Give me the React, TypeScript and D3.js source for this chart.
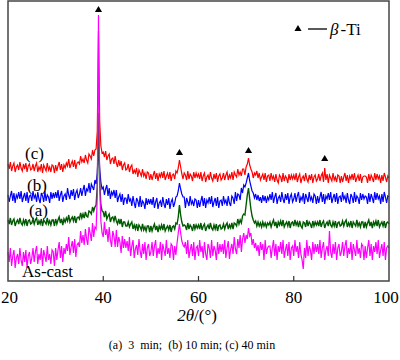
import React, { useEffect, useRef } from 'react';
import * as d3 from 'd3';

// 2theta grid, 0.25 degree step from 20 to 100
const twoTheta: number[] = d3.range(321).map((i) => 20 + i * 0.25);

// intensities (a.u.), one row per 5 degrees
const curveC: number[] = [
  117, 112, 119, 110, 115, 118, 109, 114, 116, 111, 119, 113, 110, 117, 112, 118, 109, 115, 117, 111,
  112, 117, 110, 115, 118, 109, 114, 111, 117, 108, 116, 113, 110, 118, 111, 114, 109, 116, 115, 108,
  116, 110, 115, 119, 111, 117, 109, 116, 113, 118, 115, 122, 113, 117, 120, 114, 121, 112, 118, 119,
  117, 125, 119, 122, 118, 126, 121, 118, 127, 125, 122, 131, 125, 131, 132, 150, 250, 160, 135, 128,
  129, 124, 130, 121, 125, 127, 117, 122, 123, 117, 125, 118, 114, 121, 115, 120, 111, 116, 118, 111,
  112, 117, 109, 114, 116, 107, 111, 108, 113, 104, 111, 108, 105, 112, 105, 108, 102, 109, 108, 101,
  107, 101, 106, 110, 102, 108, 100, 107, 104, 109, 103, 110, 101, 105, 108, 102, 109, 100, 106, 107,
  102, 110, 108, 113, 121, 114, 107, 102, 108, 106, 101, 110, 102, 107, 105, 100, 109, 103, 108, 104,
  107, 102, 109, 100, 105, 108, 99, 104, 106, 101, 109, 103, 100, 107, 102, 108, 99, 105, 107, 101,
  103, 108, 101, 106, 109, 101, 106, 103, 109, 101, 109, 106, 104, 112, 106, 109, 105, 112, 112, 106,
  114, 117, 123, 116, 112, 109, 103, 108, 106, 110, 103, 108, 101, 104, 107, 101, 108, 99, 105, 106,
  100, 108, 102, 105, 99, 107, 101, 98, 106, 104, 99, 108, 100, 105, 103, 98, 107, 101, 106, 102,
  106, 101, 108, 99, 104, 107, 98, 103, 105, 100, 108, 102, 99, 106, 101, 107, 98, 104, 106, 100,
  102, 107, 100, 105, 108, 99, 113, 101, 107, 98, 106, 103, 100, 108, 101, 104, 99, 106, 105, 98,
  105, 99, 104, 108, 100, 106, 98, 105, 102, 107, 101, 108, 99, 103, 106, 100, 107, 98, 104, 105,
  105, 104, 98, 107, 100, 106, 103, 99, 108, 101, 107, 102, 105, 98, 106, 100, 108, 104, 99, 105,
  103,
];

const curveB: number[] = [
  86, 79, 85, 90, 80, 88, 78, 86, 83, 89, 82, 90, 79, 84, 88, 80, 89, 78, 85, 86,
  80, 90, 83, 86, 79, 89, 82, 78, 88, 85, 79, 90, 80, 86, 84, 78, 89, 82, 88, 83,
  89, 83, 91, 80, 86, 90, 79, 85, 87, 81, 93, 86, 82, 91, 85, 92, 81, 88, 91, 83,
  87, 93, 85, 91, 96, 85, 92, 90, 98, 88, 97, 94, 91, 101, 97, 108, 135, 112, 99, 92,
  94, 86, 92, 96, 85, 93, 82, 89, 86, 91, 83, 91, 79, 84, 87, 79, 87, 76, 83, 83,
  77, 87, 80, 82, 75, 85, 78, 73, 83, 80, 74, 85, 74, 80, 78, 72, 83, 76, 82, 77,
  82, 76, 84, 73, 79, 83, 72, 78, 80, 74, 84, 77, 73, 82, 76, 83, 72, 79, 82, 74,
  78, 84, 85, 90, 98, 92, 87, 84, 84, 73, 83, 79, 75, 85, 77, 80, 75, 82, 81, 73,
  81, 74, 80, 85, 75, 83, 73, 81, 78, 84, 77, 85, 74, 79, 83, 75, 84, 73, 80, 81,
  75, 85, 78, 81, 75, 85, 78, 75, 85, 83, 77, 89, 80, 87, 86, 81, 93, 88, 96, 94,
  98, 103, 108, 100, 95, 90, 88, 83, 87, 81, 86, 80, 84, 78, 86, 80, 85, 78, 84, 81,
  87, 81, 89, 78, 84, 88, 77, 83, 85, 79, 89, 82, 78, 87, 81, 88, 77, 84, 87, 79,
  82, 88, 79, 85, 89, 78, 84, 81, 88, 77, 87, 83, 79, 89, 81, 84, 78, 87, 85, 77,
  85, 78, 84, 89, 79, 87, 77, 85, 82, 88, 81, 89, 78, 83, 87, 79, 88, 77, 84, 85,
  79, 89, 82, 85, 78, 88, 81, 77, 87, 84, 78, 89, 79, 85, 83, 77, 88, 81, 87, 82,
  85, 84, 77, 88, 79, 87, 83, 78, 89, 81, 88, 82, 85, 77, 87, 79, 89, 84, 78, 85,
  84,
];

const curveA: number[] = [
  61, 57, 63, 56, 60, 62, 55, 59, 61, 57, 63, 58, 56, 61, 57, 62, 55, 60, 61, 57,
  58, 62, 57, 61, 63, 56, 60, 57, 62, 55, 61, 59, 57, 63, 57, 60, 56, 61, 61, 55,
  62, 57, 61, 64, 58, 62, 56, 62, 59, 63, 60, 66, 59, 62, 64, 60, 65, 58, 63, 64,
  62, 68, 63, 67, 63, 69, 65, 64, 70, 69, 67, 74, 70, 74, 76, 95, 168, 100, 76, 70,
  69, 64, 70, 62, 65, 67, 59, 63, 64, 60, 65, 60, 57, 62, 57, 62, 54, 59, 59, 55,
  55, 59, 54, 57, 59, 52, 56, 52, 57, 50, 56, 54, 51, 57, 51, 54, 50, 55, 55, 49,
  55, 50, 54, 57, 51, 55, 49, 55, 52, 56, 51, 57, 50, 53, 55, 51, 56, 49, 54, 55,
  52, 58, 57, 64, 76, 66, 59, 55, 56, 55, 51, 58, 52, 56, 54, 50, 57, 52, 56, 53,
  56, 52, 58, 51, 55, 57, 50, 54, 56, 52, 58, 53, 51, 56, 52, 57, 50, 55, 56, 52,
  53, 57, 52, 56, 58, 52, 56, 53, 58, 52, 58, 57, 55, 62, 57, 61, 58, 65, 67, 66,
  76, 86, 93, 82, 72, 65, 61, 58, 60, 55, 59, 55, 58, 54, 59, 55, 58, 54, 58, 56,
  59, 54, 58, 61, 55, 59, 53, 59, 56, 60, 55, 61, 54, 57, 59, 55, 60, 53, 58, 59,
  55, 61, 56, 59, 54, 60, 55, 53, 59, 58, 54, 61, 55, 59, 57, 53, 60, 55, 59, 56,
  59, 55, 61, 54, 58, 60, 53, 57, 59, 55, 61, 56, 54, 59, 55, 60, 53, 58, 59, 55,
  56, 60, 55, 59, 61, 54, 58, 55, 60, 53, 59, 57, 55, 61, 55, 58, 54, 59, 59, 53,
  59, 54, 58, 61, 55, 59, 53, 59, 56, 60, 55, 61, 54, 57, 59, 55, 60, 53, 58, 59,
  57,
];

const curveCast: number[] = [
  29, 19, 33, 15, 25, 31, 13, 23, 27, 17, 33, 21, 15, 29, 19, 31, 13, 25, 29, 17,
  23, 33, 19, 29, 35, 17, 27, 21, 33, 15, 31, 25, 19, 35, 21, 27, 17, 31, 29, 15,
  33, 21, 31, 39, 23, 35, 19, 33, 27, 37, 30, 44, 26, 34, 40, 28, 42, 24, 36, 38,
  34, 50, 38, 46, 36, 52, 42, 36, 54, 48, 40, 58, 44, 54, 52, 85, 266, 95, 60, 48,
  44, 59, 46, 52, 39, 54, 41, 34, 50, 45, 34, 51, 34, 44, 39, 28, 45, 33, 42, 33,
  40, 30, 44, 25, 35, 41, 23, 32, 36, 26, 42, 30, 23, 37, 27, 39, 21, 33, 37, 25,
  29, 39, 25, 35, 41, 23, 33, 27, 39, 21, 37, 31, 25, 41, 27, 33, 23, 37, 35, 21,
  35, 26, 38, 48, 57, 48, 40, 36, 34, 39, 27, 41, 23, 31, 37, 25, 39, 21, 33, 35,
  25, 41, 29, 35, 23, 39, 27, 21, 37, 33, 23, 41, 25, 35, 31, 21, 39, 27, 37, 29,
  37, 27, 41, 23, 33, 40, 22, 32, 37, 27, 44, 32, 27, 42, 33, 46, 29, 42, 48, 38,
  46, 42, 53, 45, 48, 36, 42, 33, 38, 30, 36, 25, 39, 31, 37, 21, 41, 27, 33, 35,
  35, 23, 33, 41, 25, 37, 21, 35, 29, 39, 27, 41, 23, 31, 37, 25, 39, 21, 33, 35,
  25, 41, 29, 35, 23, 39, 27, 21, 12, 33, 23, 41, 25, 35, 31, 21, 39, 27, 37, 29,
  37, 27, 41, 23, 33, 39, 21, 31, 35, 25, 50, 29, 23, 37, 27, 39, 21, 33, 37, 25,
  29, 39, 25, 35, 41, 23, 33, 27, 39, 21, 37, 31, 25, 41, 27, 33, 23, 37, 35, 21,
  35, 23, 33, 41, 25, 37, 21, 35, 29, 39, 27, 41, 23, 31, 37, 25, 39, 21, 33, 35,
  33,
];

const seriesNames = ['(b)', '(a)', '(c)', 'As-cast'];
const seriesColors = ['#0000ff', '#005a00', '#ff0000', '#ff00ff'];

// beta-Ti reflections and the height of their markers
const betaAngles = [39, 56, 70.5, 86.5];
const betaLevels = [271, 128, 130, 122];

const xTicks = [20, 40, 60, 80, 100];

const W = 400;
const H = 360;

const App = () => {
  const svgRef = useRef<SVGSVGElement>(null);

  useEffect(() => {
    const svg = d3.select(svgRef.current);
    svg.selectAll('*').remove();

    const left = 8, right = 389, top = 1, bottom = 281;
    const x = d3.scaleLinear().domain([20, 100]).range([left, right]);
    const y = d3.scaleLinear().domain([0, 280]).range([bottom, top]);

    const curves = [curveB, curveA, curveC, curveCast];
    const widths = [1.2, 1.4, 1.2, 1.2];
    const line = d3
      .line<number>()
      .x((d, i) => x(twoTheta[i]))
      .y((d) => y(d));

    const plot = svg.append('g');
    curves.forEach((c, k) => {
      plot
        .append('path')
        .datum(c)
        .attr('d', line)
        .attr('fill', 'none')
        .attr('stroke', seriesColors[k])
        .attr('stroke-width', widths[k]);
    });

    // frame
    svg
      .append('rect')
      .attr('x', left)
      .attr('y', top)
      .attr('width', right - left)
      .attr('height', bottom - top)
      .attr('fill', 'none')
      .attr('stroke', '#444')
      .attr('stroke-width', 1.5);

    // inward ticks on the bottom axis
    svg
      .selectAll('line.tick')
      .data(xTicks.slice(1, -1))
      .enter()
      .append('line')
      .attr('x1', (d) => x(d))
      .attr('x2', (d) => x(d))
      .attr('y1', bottom)
      .attr('y2', bottom - 5)
      .attr('stroke', '#333')
      .attr('stroke-width', 1.2);

    const font = 'Liberation Serif, Tinos, Times New Roman, serif';

    svg
      .selectAll('text.tl')
      .data(xTicks)
      .enter()
      .append('text')
      .attr('x', (d) => (d === 20 ? x(d) + 1.5 : d === 100 ? x(d) - 3 : x(d)))
      .attr('y', 303)
      .attr('text-anchor', 'middle')
      .attr('font-family', font)
      .attr('font-size', 17)
      .text((d) => d);

    // axis title
    const title = svg
      .append('text')
      .attr('x', 197)
      .attr('y', 321)
      .attr('text-anchor', 'middle')
      .attr('font-family', font)
      .attr('font-size', 17);
    title.append('tspan').attr('font-style', 'italic').text('2θ');
    title.append('tspan').text('/(°)');

    // caption
    svg
      .append('text')
      .attr('x', 192)
      .attr('y', 349)
      .attr('text-anchor', 'middle')
      .attr('font-family', font)
      .attr('font-size', 12)
      .style('white-space', 'pre')
      .text('(a)  3  min;  (b) 10 min; (c) 40 min');

    // beta-Ti markers
    const tri = d3.symbol().type(d3.symbolTriangle).size(22);
    svg
      .selectAll('path.beta')
      .data(betaAngles)
      .enter()
      .append('path')
      .attr('d', tri)
      .attr('transform', (d, i) => `translate(${x(d)},${y(betaLevels[i])})`)
      .attr('fill', '#000');

    // legend
    svg.append('path').attr('d', tri).attr('transform', 'translate(298,29)').attr('fill', '#000');
    svg
      .append('line')
      .attr('x1', 308)
      .attr('x2', 327)
      .attr('y1', 29)
      .attr('y2', 29)
      .attr('stroke', '#000')
      .attr('stroke-width', 1.3);
    const leg = svg
      .append('text')
      .attr('x', 330)
      .attr('y', 35)
      .attr('font-family', font)
      .attr('font-size', 17);
    leg.append('tspan').attr('font-style', 'italic').text('β');
    leg.append('tspan').attr('dx', 2).text('-Ti');

    // curve labels
    const labelX = [27, 29, 25, 22];
    const labelY = [191, 216, 159, 277];
    seriesNames.forEach((n, k) => {
      svg
        .append('text')
        .attr('x', labelX[k])
        .attr('y', labelY[k])
        .attr('font-family', font)
        .attr('font-size', 17)
        .text(n);
    });
  }, []);

  return (
    <svg
      ref={svgRef}
      width={W}
      height={H}
      style={{ position: 'absolute', left: 0, top: 0, background: '#fff' }}
    />
  );
};

export default App;
